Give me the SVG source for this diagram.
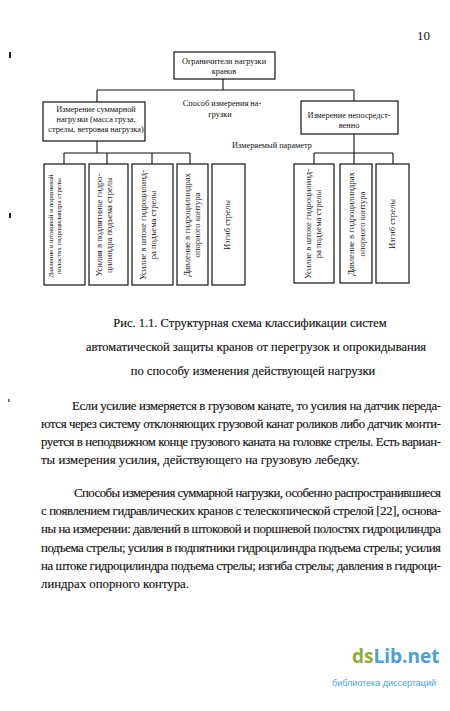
<svg xmlns="http://www.w3.org/2000/svg" width="450" height="711" viewBox="0 0 450 711">
<style>
.box{fill:#fff;stroke:#111;stroke-width:1.2}
.ln{stroke:#111;stroke-width:1.1;fill:none}
.t{font-family:"Liberation Serif","Times New Roman",serif;fill:#111}
.s{font-size:8.3px}
.v{font-size:8.6px}
.v1{font-size:6.9px}
.cap{font-size:12.5px;stroke:#111;stroke-width:0.15}
.body{font-size:12.8px;stroke:#111;stroke-width:0.15}
.wm{font-family:"Open Sans","DejaVu Sans",sans-serif}
</style>
<rect width="450" height="711" fill="#fff"/>
<text class="t" x="430" y="40" font-size="13" text-anchor="end">10</text>
<rect x="9" y="52" width="2" height="6" fill="#222"/>
<rect x="9" y="213" width="2" height="5" fill="#222"/>
<rect x="8" y="399" width="1.5" height="3" fill="#555"/>

<g id="connectors">
<path class="ln" d="M223,79V90M97,90H354M97,90V102M354,90V101"/>
<path class="ln" d="M97,141V153M64,153H190M64,153V164M107,153V164M152,153V164M190,153V164"/>
<path class="ln" d="M354,134V164M314,153H393M314,153V164M393,153V164"/>
</g>

<g id="n-root">
<rect class="box" x="174" y="52" width="101" height="27"/>
<text class="t s" x="224" y="64" text-anchor="middle">Ограничители нагрузки</text>
<text class="t s" x="224" y="74" text-anchor="middle">кранов</text>
</g>

<g id="n-method">
<text class="t s" x="222" y="106" text-anchor="middle">Способ измерения на-</text>
<text class="t s" x="220" y="117" text-anchor="middle">грузки</text>
</g>

<g id="n-total">
<rect class="box" x="43" y="102" width="102" height="39"/>
<text class="t s" x="96" y="112" text-anchor="middle">Измерение суммарной</text>
<text class="t s" x="96" y="122" text-anchor="middle">нагрузки (масса груза,</text>
<text class="t s" x="96" y="132" text-anchor="middle">стрелы, ветровая нагрузка)</text>
</g>

<g id="n-direct">
<rect class="box" x="301" y="101" width="97" height="33"/>
<text class="t s" x="349" y="118" text-anchor="middle">Измерение непосредст-</text>
<text class="t s" x="349" y="128" text-anchor="middle">венно</text>
</g>

<g id="n-param">
<text class="t s" x="272" y="148" text-anchor="middle">Измеряемый параметр</text>
</g>

<g id="n-l1">
<rect class="box" x="44" y="164" width="41" height="121"/>
<text class="t v1" transform="translate(53,226) rotate(-90)" text-anchor="middle">Давление в штоковой и поршневой</text>
<text class="t v1" transform="translate(61,226) rotate(-90)" text-anchor="middle">полостях гидроцилиндра стрелы</text>
</g>
<g id="n-l2">
<rect class="box" x="89" y="164" width="39" height="121"/>
<text class="t v" transform="translate(102,225) rotate(-90)" text-anchor="middle">Усилия в подпятнике гидро-</text>
<text class="t v" transform="translate(112,225) rotate(-90)" text-anchor="middle">цилиндра подъема стрелы</text>
</g>
<g id="n-l3">
<rect class="box" x="132" y="164" width="41" height="121"/>
<text class="t v" transform="translate(146,225) rotate(-90)" text-anchor="middle">Усилие в штоке гидроцилинд-</text>
<text class="t v" transform="translate(156,225) rotate(-90)" text-anchor="middle">ра подъема стрелы</text>
</g>
<g id="n-l4">
<rect class="box" x="177" y="164" width="31" height="121"/>
<text class="t v" transform="translate(190,225) rotate(-90)" text-anchor="middle">Давление в гидроцилиндрах</text>
<text class="t v" transform="translate(200,225) rotate(-90)" text-anchor="middle">опорного контура</text>
</g>
<g id="n-l5">
<rect class="box" x="212" y="164" width="33" height="121"/>
<text class="t v" transform="translate(230,225) rotate(-90)" text-anchor="middle">Изгиб стрелы</text>
</g>

<g id="n-r1">
<rect class="box" x="294" y="164" width="40" height="119"/>
<text class="t v" transform="translate(311,224) rotate(-90)" text-anchor="middle">Усилие в штоке гидроцилинд-</text>
<text class="t v" transform="translate(321,224) rotate(-90)" text-anchor="middle">ра подъема стрелы</text>
</g>
<g id="n-r2">
<rect class="box" x="340" y="164" width="32" height="119"/>
<text class="t v" transform="translate(354,224) rotate(-90)" text-anchor="middle">Давление в гидроцилиндрах</text>
<text class="t v" transform="translate(365,224) rotate(-90)" text-anchor="middle">опорного контура</text>
</g>
<g id="n-r3">
<rect class="box" x="376" y="164" width="33" height="119"/>
<text class="t v" transform="translate(395,224) rotate(-90)" text-anchor="middle">Изгиб стрелы</text>
</g>

<g id="caption">
<text class="t cap" x="250" y="327" text-anchor="middle">Рис. 1.1. Структурная схема классификации систем</text>
<text class="t cap" x="256" y="351" text-anchor="middle">автоматической защиты кранов от перегрузок и опрокидывания</text>
<text class="t cap" x="253" y="375" text-anchor="middle">по способу изменения действующей нагрузки</text>
</g>

<g id="body">
<text class="t body" x="72" y="410" textLength="369" lengthAdjust="spacing">Если усилие измеряется в грузовом канате, то усилия на датчик переда-</text>
<text class="t body" x="41" y="428" textLength="400" lengthAdjust="spacing">ются через систему отклоняющих грузовой канат роликов либо датчик монти-</text>
<text class="t body" x="41" y="446" textLength="400" lengthAdjust="spacing">руется в неподвижном конце грузового каната на головке стрелы. Есть вариан-</text>
<text class="t body" x="41" y="464">ты измерения усилия, действующего на грузовую лебедку.</text>
<text class="t body" x="74" y="497" textLength="367" lengthAdjust="spacing">Способы измерения суммарной нагрузки, особенно распространившиеся</text>
<text class="t body" x="41" y="515" textLength="400" lengthAdjust="spacing">с появлением гидравлических кранов с телескопической стрелой [22], основа-</text>
<text class="t body" x="41" y="533" textLength="400" lengthAdjust="spacing">ны на измерении: давлений в штоковой и поршневой полостях гидроцилиндра</text>
<text class="t body" x="41" y="552" textLength="400" lengthAdjust="spacing">подъема стрелы; усилия в подпятники гидроцилиндра подъема стрелы; усилия</text>
<text class="t body" x="41" y="570" textLength="400" lengthAdjust="spacing">на штоке гидроцилиндра подъема стрелы; изгиба стрелы; давления в гидроци-</text>
<text class="t body" x="41" y="588">линдрах опорного контура.</text>
</g>

<g id="watermark">
<text class="wm" x="352" y="663" font-size="19" font-weight="bold"><tspan fill="#8cae3e">ds</tspan><tspan fill="#4b9fd2">Lib.net</tspan></text>
<text x="436" y="686" text-anchor="end" font-family="'Liberation Sans',Arial,sans-serif" font-size="9" fill="#4b9fd2">библиотека диссертаций</text>
</g>
</svg>
